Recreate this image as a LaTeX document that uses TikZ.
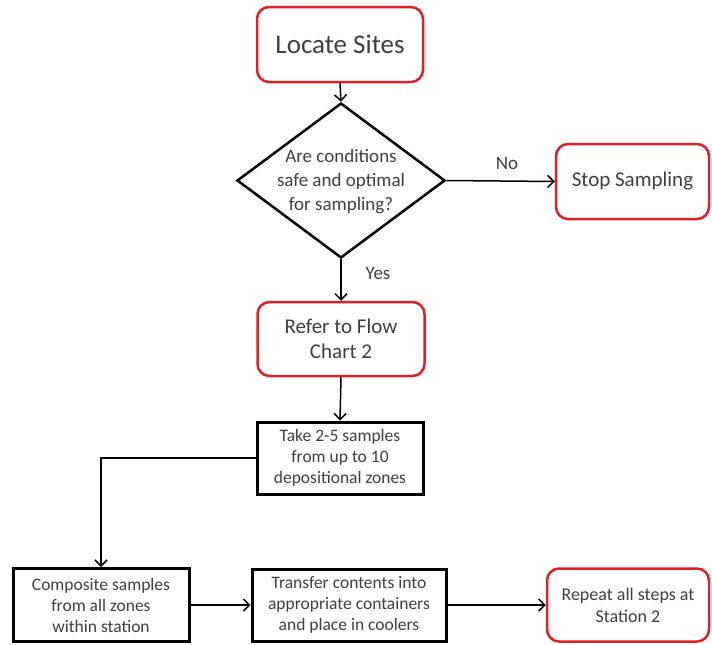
\documentclass[tikz,border=0pt]{standalone}
\usepackage{fontspec}
\setmainfont{Carlito}
\usetikzlibrary{shapes.geometric,arrows.meta}
\definecolor{boxred}{RGB}{226,30,38}
\definecolor{txtgray}{RGB}{64,64,64}
\begin{document}
\begin{tikzpicture}[x=1pt,y=-1pt,
  redbox/.style={draw=boxred, line width=2.5pt, rounded corners=12pt, fill=white, text=txtgray, align=center, inner sep=0pt},
  blackbox/.style={draw=black, line width=3pt, fill=white, text=txtgray, align=center, inner sep=0pt},
  arr/.style={line width=1.5pt, -{Straight Barb[length=6pt,width=12pt]}},
  lbl/.style={text=txtgray, font=\fontsize{19}{23}\selectfont}]
\useasboundingbox (0,0) rectangle (712,645);
\node[redbox, minimum width=166pt, minimum height=75pt, font=\fontsize{27}{32}\selectfont] (locate) at (340,44.5) {Locate Sites};
\node[diamond, draw=black, line width=2.5pt, minimum width=208pt, minimum height=155pt, inner sep=0pt] (dec) at (341,180.5) {};
\node[text=txtgray, align=center, font=\fontsize{19}{24}\selectfont] (dectext) at (341,182) {Are conditions\\safe and optimal\\for sampling?};
\node[redbox, minimum width=153pt, minimum height=75pt, font=\fontsize{21}{25}\selectfont] (stop) at (632.5,181.5) {Stop Sampling};
\node[redbox, minimum width=167pt, minimum height=74pt, font=\fontsize{21}{25}\selectfont] (refer) at (341,339) {Refer to Flow\\Chart 2};
\node[blackbox, minimum width=166pt, minimum height=72pt, font=\fontsize{17.5}{21}\selectfont] (take) at (340,458) {Take 2-5 samples\\from up to 10\\depositional zones};
\node[blackbox, minimum width=176pt, minimum height=73pt, font=\fontsize{17.5}{21}\selectfont] (comp) at (101,605) {Composite samples\\from all zones\\within station};
\node[blackbox, minimum width=194pt, minimum height=72pt, font=\fontsize{17.5}{21}\selectfont] (transfer) at (349,605) {Transfer contents into\\appropriate containers\\and place in coolers};
\node[redbox, minimum width=162pt, minimum height=73pt, font=\fontsize{18}{22}\selectfont] (repeat) at (628,605) {Repeat all steps at\\Station 2};
\draw[arr] (locate.south) -- (dec.north);
\draw[arr] (dec.east) -- (stop.west);
\node[lbl] (nolbl) at (507,163) {No};
\draw[arr] (dec.south) -- (refer.north);
\node[lbl] (yeslbl) at (378,273) {Yes};
\draw[arr] (refer.south) -- (take.north);
\draw[arr] (take.west) -| (comp.north);
\draw[arr] (comp.east) -- (transfer.west);
\draw[arr] (transfer.east) -- (repeat.west);
\end{tikzpicture}
\end{document}
